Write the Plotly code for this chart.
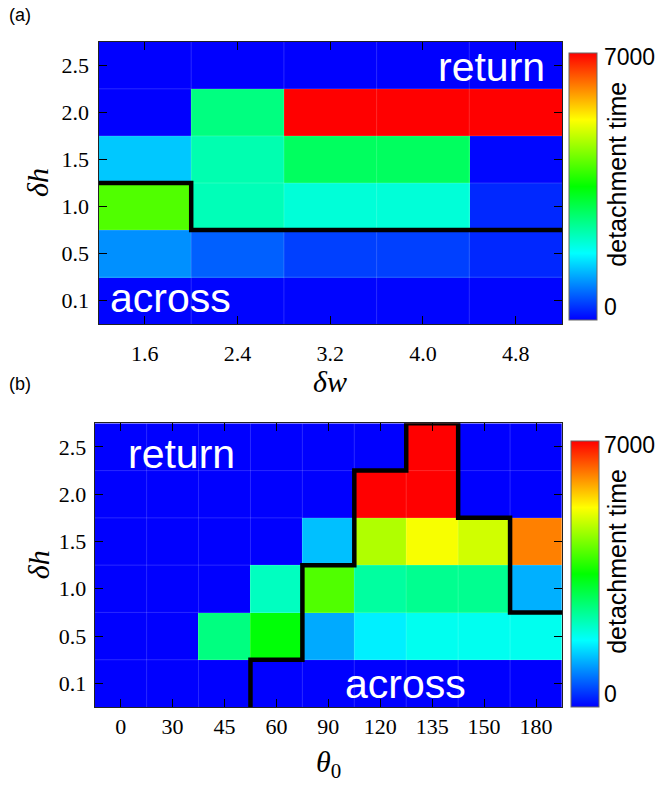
import plotly.graph_objects as go

W, H = 659, 785

# ---------------- data ----------------
dw_labels = ["1.6", "2.4", "3.2", "4.0", "4.8"]
theta_labels = ["0", "30", "45", "60", "90", "120", "135", "150", "180"]
dh_labels = ["0.1", "0.5", "1.0", "1.5", "2.0", "2.5"]

# panel (a): detachment time, one list per dh row (columns follow dw_labels)
a_dh01 = [20, 30, 30, 30, 30]
a_dh05 = [990, 660, 440, 440, 270]
a_dh10 = [4050, 2240, 2020, 2020, 275]
a_dh15 = [1370, 2290, 2845, 2845, 40]
a_dh20 = [0, 2625, 7000, 7000, 7000]
a_dh25 = [0, 0, 0, 0, 0]

# panel (b): detachment time, one list per dh row (columns follow theta_labels)
b_dh01 = [0, 0, 0, 0, 0, 0, 0, 0, 0]
b_dh05 = [0, 0, 2625, 3450, 1170, 1650, 1850, 1850, 1860]
b_dh10 = [0, 0, 0, 2185, 4050, 2400, 2510, 2510, 1210]
b_dh15 = [0, 0, 0, 0, 1320, 4710, 5200, 4930, 6120]
b_dh20 = [0, 0, 0, 0, 0, 7000, 7000, 0, 0]
b_dh25 = [0, 0, 0, 0, 0, 0, 7000, 0, 0]

# highest dh that still goes "across" for each column (None = none)
across_top_a = ["1.0", "0.5", "0.5", "0.5", "0.5"]
across_top_b = [None, None, None, "0.1", "1.0", "2.0", "2.5", "1.5", "0.5"]

zmin, zmax = 0, 7000
colorbar_ticks = [0, 7000]

# ---------------- styling ----------------
jet_hsv = [[0, "#0000ff"], [0.25, "#00ffff"], [0.5, "#00ff00"],
           [0.75, "#ffff00"], [1, "#ff0000"]]
SERIF = "Liberation Serif"
SANS = "Liberation Sans"


def px(x):
    return x / W


def py(y):
    return 1 - y / H


def boundary_path(tops):
    levels = [(dh_labels.index(t) if t is not None else -1) + 0.5 for t in tops]
    pts = []
    for i, lv in enumerate(levels):
        pts.append((i - 0.5, lv))
        pts.append((i + 0.5, lv))
    # drop leading points lying on the bottom edge (keep the last one)
    k = 0
    while k + 1 < len(pts) and pts[k][1] == -0.5 and pts[k + 1][1] == -0.5:
        k += 1
    pts = pts[k:]
    return [p[0] for p in pts], [p[1] for p in pts]


# plot-area pixel geometry
A = dict(l=98.5, r=562, t=41.7, b=324.3)
B = dict(l=94.7, r=562, t=423.3, b=707)
CBA = dict(l=569.3, t=53.3, b=320)
CBB = dict(l=570.7, t=441, b=706.7)

fig = go.Figure()

za = [a_dh01, a_dh05, a_dh10, a_dh15, a_dh20, a_dh25]
zb = [b_dh01, b_dh05, b_dh10, b_dh15, b_dh20, b_dh25]


def cbar(g):
    return dict(x=px(g["l"]), xanchor="left",
                y=py((g["t"] + g["b"]) / 2), yanchor="middle",
                len=(g["b"] - g["t"]) / H, lenmode="fraction",
                thickness=28, thicknessmode="pixels", xpad=0, ypad=0,
                outlinewidth=1, outlinecolor="#666666",
                showticklabels=False, ticks="")


fig.add_trace(go.Heatmap(z=za, x=list(range(len(dw_labels))), y=list(range(len(dh_labels))),
                         zmin=zmin, zmax=zmax, colorscale=jet_hsv,
                         colorbar=cbar(CBA), xaxis="x", yaxis="y"))
fig.add_trace(go.Heatmap(z=zb, x=list(range(len(theta_labels))), y=list(range(len(dh_labels))),
                         zmin=zmin, zmax=zmax, colorscale=jet_hsv,
                         colorbar=cbar(CBB), xaxis="x2", yaxis="y2"))

# faint cell separators (drawn under the boundary line)
for (xr, yr, nx) in (("x", "y", len(dw_labels)), ("x2", "y2", len(theta_labels))):
    ny = len(dh_labels)
    sx, sy = [], []
    for i in range(1, nx):
        sx += [i - 0.5, i - 0.5, None]
        sy += [-0.5, ny - 0.5, None]
    for j in range(1, ny):
        sx += [-0.5, nx - 0.5, None]
        sy += [j - 0.5, j - 0.5, None]
    fig.add_trace(go.Scatter(x=sx, y=sy, mode="lines", xaxis=xr, yaxis=yr,
                             line=dict(color="rgba(255,255,255,0.16)", width=1),
                             showlegend=False, hoverinfo="skip"))

xa, ya = boundary_path(across_top_a)
fig.add_trace(go.Scatter(x=xa, y=ya, mode="lines", line=dict(color="black", width=4.5),
                         xaxis="x", yaxis="y", showlegend=False, hoverinfo="skip"))
xb, yb = boundary_path(across_top_b)
fig.add_trace(go.Scatter(x=xb, y=yb, mode="lines", line=dict(color="black", width=4.5),
                         xaxis="x2", yaxis="y2", showlegend=False, hoverinfo="skip"))


def axis(dom, labels, anchor, standoff):
    return dict(domain=dom, anchor=anchor, range=[-0.5, len(labels) - 0.5],
                tickvals=list(range(len(labels))), ticktext=labels,
                ticks="inside", ticklen=8, tickwidth=1, tickcolor="black",
                showline=True, linecolor="#222222", linewidth=1, mirror="ticks",
                showgrid=False, zeroline=False, automargin=False,
                ticklabelstandoff=standoff,
                tickfont=dict(family=SERIF, size=22, color="black"))


fig.update_layout(
    width=W, height=H, autosize=False,
    margin=dict(l=0, r=0, t=0, b=0),
    paper_bgcolor="white", plot_bgcolor="white",
    xaxis=axis([px(A["l"]), px(A["r"])], dw_labels, "y", 9),
    yaxis=axis([py(A["b"]), py(A["t"])], dh_labels, "x", 4),
    xaxis2=axis([px(B["l"]), px(B["r"])], theta_labels, "y2", 0),
    yaxis2=axis([py(B["b"]), py(B["t"])], dh_labels, "x2", 3),
    showlegend=False,
)

ann = []


def text(t, x, y, size, family=SANS, color="black", xanchor="center", angle=0):
    ann.append(dict(text=t, x=px(x), y=py(y), xref="paper", yref="paper",
                    xanchor=xanchor, yanchor="middle", showarrow=False, textangle=angle,
                    font=dict(family=family, size=size, color=color)))


# panel letters
text("(a)", 7, 15, 18, xanchor="left")
text("(b)", 7, 384, 18, xanchor="left")
# axis titles
text("<i>δh</i>", 38, (A["t"] + A["b"]) / 2, 30, family=SERIF, angle=-90)
text("<i>δw</i>", (A["l"] + A["r"]) / 2, 381, 30, family=SERIF)
text("<i>δh</i>", 38, (B["t"] + B["b"]) / 2, 30, family=SERIF, angle=-90)
text("<i>θ</i><sub>0</sub>", (B["l"] + B["r"]) / 2, 764, 30, family=SERIF)
# region labels
text("return", 547, 67.2, 41, color="white", xanchor="right")
text("across", 108, 297.5, 41, color="white", xanchor="left")
text("return", 126, 454, 41, color="white", xanchor="left")
text("across", 343, 684, 41, color="white", xanchor="left")
# colorbar labels and titles
for g in (CBA, CBB):
    text(str(colorbar_ticks[1]), 601.7, g["t"] + 3.5, 23, xanchor="left")
    text(str(colorbar_ticks[0]), 601.7, g["b"] - 13, 23, xanchor="left")
    text("detachment time", 617, (g["t"] + g["b"]) / 2 - 12, 25, angle=-90)

fig.update_layout(annotations=ann)
fig.write_html("out.html", config={"displayModeBar": False},
               post_script="document.body.style.margin='0px';")
